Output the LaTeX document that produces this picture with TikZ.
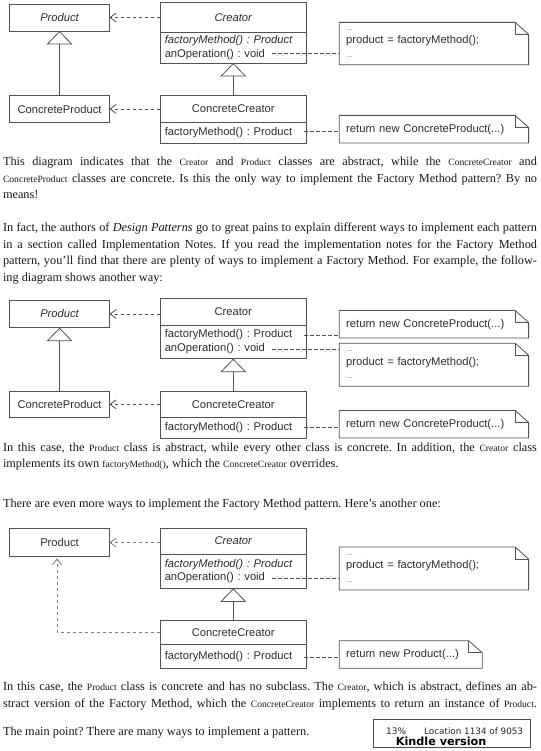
\documentclass[tikz,border=0pt]{standalone}
\usepackage{fontspec}
\setmainfont{Liberation Serif}
\newfontfamily\dsans{Liberation Sans}
\newfontfamily\kfont{DejaVu Sans}
\usetikzlibrary{arrows.meta}
\definecolor{lc}{gray}{0.32}
\definecolor{llc}{gray}{0.5}
\definecolor{tc}{gray}{0.18}
\definecolor{bc}{gray}{0.1}
\frenchspacing
\newcommand\dfont{\dsans\fontsize{11.2}{13.8}\selectfont}
\newcommand\bfont{\fontsize{12.3}{14}\selectfont\frenchspacing}
\newcommand\cn[1]{{\fontsize{9.6}{10}\selectfont #1}}
\newcommand\jl[1]{\hbox to 534pt{#1}}
\newcommand\dd{{\color{gray}\fontsize{8}{8}\selectfont ...}}
\newcommand\notedraw[1]{%
  \draw[boxline] (#1.north west) -- ([xshift=-13.5pt]#1.north east) -- ([yshift=-12pt]#1.north east) -- (#1.south east) -- (#1.south west) -- cycle;
  \draw[boxline] ([xshift=-13.5pt]#1.north east) |- ([yshift=-12pt]#1.north east);}
\begin{document}
\begin{tikzpicture}[x=1pt,y=-1pt,
  boxline/.style={draw=lc, line width=0.8pt},
  cls/.style={draw=lc, line width=0.8pt, anchor=north west, inner sep=0pt, outer sep=0pt, minimum width=146.5pt, font=\dfont, text=tc},
  clsb/.style={cls, align=left, text width=137pt, inner xsep=4.75pt},
  smallcls/.style={cls, minimum width=99.9pt},
  notebox/.style={anchor=north west, inner sep=0pt, inner xsep=7pt, outer sep=0pt, minimum width=189.4pt, text width=175.4pt, align=left, font=\dfont, text=tc},
  notelink/.style={draw=lc, line width=0.8pt, dash pattern=on 3.5pt off 2.5pt},
  dep/.style={draw=lc, line width=0.8pt, dash pattern=on 3.5pt off 2.5pt, -{Straight Barb[length=6pt,width=9pt]}},
  ldep/.style={dep, draw=llc},
  gen/.style={draw=lc, line width=0.8pt, -{Triangle[open, length=13.5pt, width=26pt]}},
  tl/.style={anchor=base west, inner sep=0pt, outer sep=0pt, font=\bfont, text=bc}]
\useasboundingbox[fill=white] (0,0) rectangle (540,751);

% ---------------- Diagram 1 ----------------
\node[smallcls, minimum height=26.9pt] (p1) at (9.6,4.1) {\itshape Product};
\node[cls, minimum height=29.2pt] (c1) at (160,2.8) {\itshape Creator};
\node[clsb, minimum height=31pt] (c1b) at (c1.south west) {\textit{factoryMethod() : Product}\\anOperation() : void};
\node[smallcls, minimum height=26.6pt] (cp1) at (9.6,95.7) {ConcreteProduct};
\node[cls, minimum height=26.6pt] (cc1) at (160,95.7) {ConcreteCreator};
\node[clsb, minimum height=20.7pt] (cc1b) at (cc1.south west) {factoryMethod() : Product};
\node[notebox, minimum height=42.3pt] (n1) at (339.2,22.4) {\dd\\product = factoryMethod();\\\dd};
\notedraw{n1}
\node[notebox, minimum height=27.6pt] (n2) at (339.2,115.4) {return new ConcreteProduct(...)};
\notedraw{n2}
\draw[dep] (p1.east -| c1.west) -- (p1.east);
\draw[dep] (cp1.east -| cc1.west) -- (cp1.east);
\draw[gen] (cp1.north) -- (p1.south);
\draw[gen] (cc1.north) -- (c1b.south);
\coordinate (o1) at (272,53.4);
\coordinate (f1) at (304,131.9);
\draw[notelink] (o1) -- (o1 -| n1.west);
\draw[notelink] (f1) -- (f1 -| n2.west);

% ---------------- Text 1 ----------------
\node[tl] (t1) at (3,165.5) {\jl{This diagram indicates that the \cn{Creator} and \cn{Product} classes are abstract, while the \cn{ConcreteCreator} and}};
\node[tl] (t2) at (3,182.3) {\jl{\cn{ConcreteProduct} classes are concrete. Is this the only way to implement the Factory Method pattern? By no}};
\node[tl] (t3) at (3,199) {means!};
\node[tl] (t4) at (3,231.6) {\jl{In fact, the authors of \textit{Design Patterns} go to great pains to explain different ways to implement each pattern}};
\node[tl] (t5) at (3,248.2) {\jl{in a section called Implementation Notes. If you read the implementation notes for the Factory Method}};
\node[tl] (t6) at (3,264.6) {\jl{pattern, you’ll find that there are plenty of ways to implement a Factory Method. For example, the follow-}};
\node[tl] (t7) at (3,281.4) {ing diagram shows another way:};

% ---------------- Diagram 2 ----------------
\node[smallcls, minimum height=27.5pt] (p2) at (9.6,300.2) {\itshape Product};
\node[cls, minimum height=26.9pt] (c2) at (160,298.4) {Creator};
\node[clsb, minimum height=33.4pt] (c2b) at (c2.south west) {factoryMethod() : Product\\anOperation() : void};
\node[smallcls, minimum height=25.9pt] (cp2) at (9.6,391.4) {ConcreteProduct};
\node[cls, minimum height=25.9pt] (cc2) at (160,391.4) {ConcreteCreator};
\node[clsb, minimum height=20.6pt] (cc2b) at (cc2.south west) {factoryMethod() : Product};
\node[notebox, minimum height=27.5pt] (nA) at (339.2,310.5) {return new ConcreteProduct(...)};
\notedraw{nA}
\node[notebox, minimum height=43.1pt] (nB) at (339.2,343.2) {\dd\\product = factoryMethod();\\\dd};
\notedraw{nB}
\node[notebox, minimum height=27.5pt] (nC) at (339.2,410.4) {return new ConcreteProduct(...)};
\notedraw{nC}
\draw[dep] (p2.east -| c2.west) -- (p2.east);
\draw[dep] (cp2.east -| cc2.west) -- (cp2.east);
\draw[gen] (cp2.north) -- (p2.south);
\draw[gen] (cc2.north) -- (c2b.south);
\coordinate (fA) at (304,335.3);
\coordinate (oB) at (272,349.1);
\coordinate (fC) at (304,427.6);
\draw[notelink] (fA) -- (fA -| nA.west);
\draw[notelink] (oB) -- (oB -| nB.west);
\draw[notelink] (fC) -- (fC -| nC.west);

% ---------------- Text 2 ----------------
\node[tl] (t8) at (3,451) {\jl{In this case, the \cn{Product} class is abstract, while every other class is concrete. In addition, the \cn{Creator} class}};
\node[tl] (t9) at (3,467.7) {implements its own \cn{factoryMethod()}, which the \cn{ConcreteCreator} overrides.};
\node[tl] (t10) at (3,507.7) {There are even more ways to implement the Factory Method pattern. Here’s another one:};

% ---------------- Diagram 3 ----------------
\node[smallcls, minimum height=27.5pt] (p3) at (9.6,528.8) {Product};
\node[cls, minimum height=25.8pt] (c3) at (160,528.1) {\itshape Creator};
\node[clsb, minimum height=34.5pt] (c3b) at (c3.south west) {\textit{factoryMethod() : Product}\\anOperation() : void};
\node[cls, minimum height=23.4pt] (cc3) at (160,620.7) {ConcreteCreator};
\node[clsb, minimum height=24.2pt] (cc3b) at (cc3.south west) {factoryMethod() : Product};
\node[notebox, minimum height=43pt] (n31) at (339.2,547) {\dd\\product = factoryMethod();\\\dd};
\notedraw{n31}
\node[notebox, minimum height=27.6pt, minimum width=143pt, text width=129pt] (n32) at (339.2,640.7) {return new Product(...)};
\notedraw{n32}
\draw[ldep] (p3.east -| c3.west) -- (p3.east);
\draw[ldep] (cc3.west) -| ([xshift=-2.5pt,yshift=-2pt]p3.south);
\draw[gen] (cc3.north) -- (c3b.south);
\coordinate (o3) at (272,578.7);
\coordinate (f3) at (304,657.2);
\draw[notelink] (o3) -- (o3 -| n31.west);
\draw[notelink] (f3) -- (f3 -| n32.west);

% ---------------- Text 3 ----------------
\node[tl] (t11) at (3,690) {\jl{In this case, the \cn{Product} class is concrete and has no subclass. The \cn{Creator}, which is abstract, defines an ab-}};
\node[tl] (t12) at (3,707.5) {\jl{stract version of the Factory Method, which the \cn{ConcreteCreator} implements to return an instance of \cn{Product}.}};
\node[tl] (t13) at (3,735.5) {The main point? There are many ways to implement a pattern.};

% ---------------- Kindle box ----------------
\node[draw=black!70, line width=1.2pt, anchor=north west, minimum width=157pt, minimum height=28pt, inner sep=0pt] (kb) at (373,719) {};
\node[anchor=west, inner sep=0pt, font=\kfont\fontsize{9}{9}\selectfont, text=black!85] (k1) at (386,731) {13\%};
\node[anchor=west, inner sep=0pt, font=\kfont\fontsize{8.8}{9}\selectfont, text=black!85] (k2) at (424,731) {Location 1134 of 9053};
\node[anchor=west, inner sep=0pt, font=\kfont\bfseries\fontsize{11.2}{12}\selectfont, text=black] (k3) at (395.7,741.7) {Kindle version};
\end{tikzpicture}
\end{document}
